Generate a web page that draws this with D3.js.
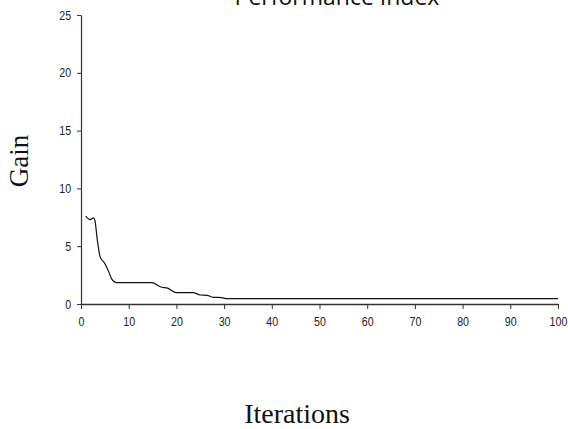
<!DOCTYPE html>
<html>
<head>
<meta charset="utf-8">
<script src="https://cdn.jsdelivr.net/npm/d3@7"></script>
<style>
  body { margin: 0; background: #fff; }
  svg { display: block; }
  .tick text { font-family: "Liberation Sans Narrow", "Arial Narrow", "Liberation Sans", sans-serif; font-size: 13px; fill: #222; }
  .domain, .tick line { stroke: #333; }
</style>
</head>
<body>
<svg id="chart" width="568" height="429"></svg>
<script>
// Values
const iterations = [1, 1.9, 2.6, 2.9, 3.4, 4, 5, 5.8, 6.4, 7.5, 10, 14.8, 16.9, 18, 20, 23.5, 25, 26.4, 27.7, 29.5, 30.5, 40, 60, 80, 100];
const gain = [7.6, 7.3, 7.45, 7.25, 5.6, 4.1, 3.5, 2.8, 2.2, 1.85, 1.85, 1.85, 1.45, 1.4, 0.98, 0.98, 0.78, 0.75, 0.58, 0.56, 0.46, 0.46, 0.46, 0.46, 0.46];
const xTicks = [0, 10, 20, 30, 40, 50, 60, 70, 80, 90, 100];
const yTicks = [0, 5, 10, 15, 20, 25];

const svg = d3.select("#chart");

const x = d3.scaleLinear().domain([0, 100]).range([81, 558]);
const y = d3.scaleLinear().domain([0, 25]).range([304, 15]);

// Axes
const xAxis = svg.append("g")
    .attr("transform", "translate(0,304)")
    .call(d3.axisBottom(x).tickValues(xTicks).tickSize(5).tickSizeOuter(0).tickPadding(8))
    .call(g => g.select(".domain").attr("stroke-width", 1.5));

const yAxis = svg.append("g")
    .attr("transform", "translate(81,0)")
    .call(d3.axisLeft(y).tickValues(yTicks).tickSize(4).tickSizeOuter(0).tickPadding(6))
    .call(g => g.select(".domain").attr("stroke-width", 1.2));

// narrow look of the original tick labels
xAxis.selectAll(".tick text").attr("transform", "scale(0.82,1)");
yAxis.selectAll(".tick text").attr("x", -12).attr("transform", "scale(0.82,1)");

// Line
const data = iterations.map((d, i) => ({ it: d, g: gain[i] }));
const line = d3.line()
    .x(d => x(d.it))
    .y(d => y(d.g))
    .curve(d3.curveMonotoneX);

svg.append("path")
    .datum(data)
    .attr("fill", "none")
    .attr("stroke", "#111")
    .attr("stroke-width", 1.2)
    .attr("d", line);

// Title (cut off at the top, as in the original)
svg.append("text")
    .attr("x", 337)
    .attr("y", 5)
    .attr("text-anchor", "middle")
    .style("font-family", "'Open Sans', 'Liberation Sans', sans-serif")
    .style("font-size", "23px")
    .style("fill", "#111")
    .text("Performance Index");

// Axis titles
svg.append("text")
    .attr("transform", "translate(28,161) rotate(-90)")
    .attr("text-anchor", "middle")
    .style("font-family", "'Liberation Serif', 'Times New Roman', serif")
    .style("font-size", "27px")
    .style("fill", "#111")
    .text("Gain");

svg.append("text")
    .attr("x", 297)
    .attr("y", 423)
    .attr("text-anchor", "middle")
    .style("font-family", "'Liberation Serif', 'Times New Roman', serif")
    .style("font-size", "28px")
    .style("fill", "#111")
    .text("Iterations");
</script>
</body>
</html>
